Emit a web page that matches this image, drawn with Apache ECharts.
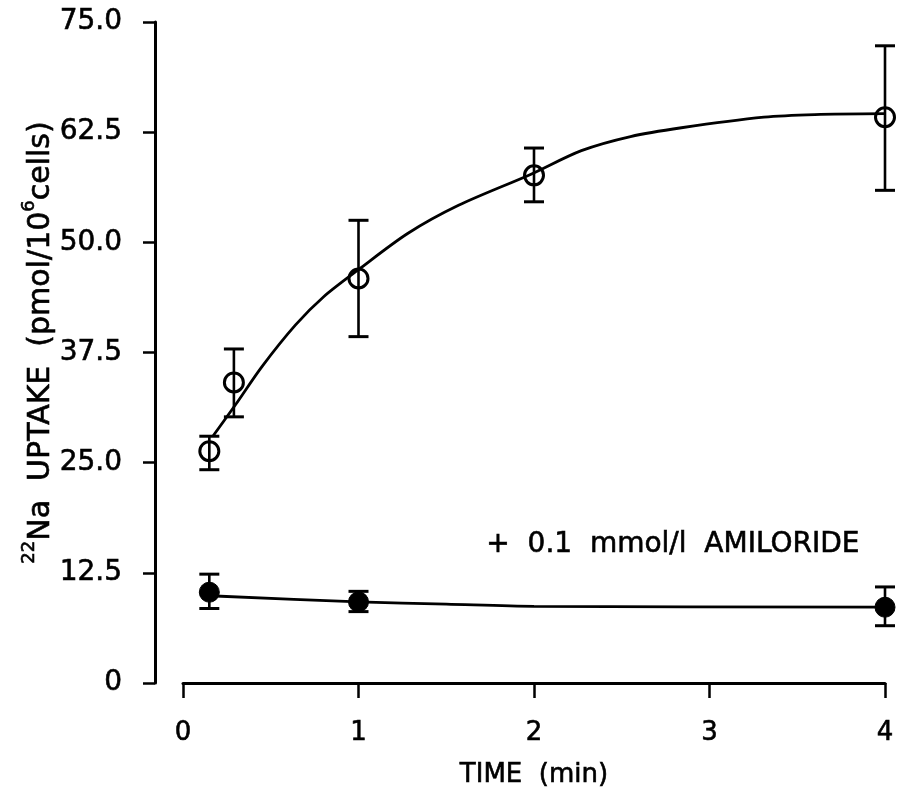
<!DOCTYPE html>
<html>
<head>
<meta charset="utf-8">
<script src="https://cdn.jsdelivr.net/npm/echarts@6/dist/echarts.min.js"></script>
<style>
html,body{margin:0;padding:0;background:#fff;}
#chart{width:897px;height:794px;}
</style>
</head>
<body>
<div id="chart"></div>
<script>
// ---- data ----
var xTicks = [0, 1, 2, 3, 4];
var yTickLabels = ['0', '12.5', '25.0', '37.5', '50.0', '62.5', '75.0'];

// control (open circles): time (min), mean, error low, error high
var ctrlTime = [0.15, 0.29, 1.0, 2.0, 4.0];
var ctrlMean = [26.3, 34.1, 45.9, 57.6, 64.2];
var ctrlLow  = [24.2, 30.2, 39.3, 54.6, 55.9];
var ctrlHigh = [28.0, 37.9, 52.5, 60.7, 72.3];

// fitted curve for control
var ctrlCurveTime  = [0.17, 0.30, 0.45, 0.64, 0.80, 1.00, 1.28, 1.57, 1.98, 2.27, 2.55, 2.84, 3.31, 3.60, 4.00];
var ctrlCurveValue = [28.0, 31.6, 35.9, 40.6, 43.8, 46.9, 51.0, 54.2, 57.7, 60.4, 62.0, 63.0, 64.2, 64.5, 64.6];

// + amiloride (filled circles)
var amiTime = [0.15, 1.0, 4.0];
var amiMean = [10.3, 9.2, 8.6];
var amiLow  = [8.45, 8.1, 6.5];
var amiHigh = [12.35, 10.4, 10.9];

// line for amiloride
var amiCurveTime  = [0.15, 1.0, 1.5, 2.0, 4.0];
var amiCurveValue = [9.9, 9.2, 8.95, 8.7, 8.6];

var annotationText = '+  0.1  mmol/l  AMILORIDE';

// ---- build ----
function pairs(xs, ys) { return xs.map(function (x, i) { return [x, ys[i]]; }); }
function errData(xs, lo, hi) { return xs.map(function (x, i) { return [x, lo[i], hi[i]]; }); }

function errorRender(params, api) {
  var x = api.value(0);
  var lo = api.coord([x, api.value(1)]);
  var hi = api.coord([x, api.value(2)]);
  var hw = 10;
  return {
    type: 'group',
    children: [
      { type: 'line', shape: { x1: lo[0], y1: lo[1], x2: hi[0], y2: hi[1] }, style: { stroke: '#000', lineWidth: 2.6 } },
      { type: 'line', shape: { x1: lo[0] - hw, y1: lo[1], x2: lo[0] + hw, y2: lo[1] }, style: { stroke: '#000', lineWidth: 3 } },
      { type: 'line', shape: { x1: hi[0] - hw, y1: hi[1], x2: hi[0] + hw, y2: hi[1] }, style: { stroke: '#000', lineWidth: 3 } }
    ]
  };
}

var FONT = 'DejaVu Sans';
var TB = { textBorderColor: '#000', textBorderWidth: 0.6 };
var chart = echarts.init(document.getElementById('chart'), null, { renderer: 'canvas' });

chart.setOption({
  backgroundColor: '#fff',
  animation: false,
  grid: { left: 183, right: 12, top: 22, bottom: 111, containLabel: false },
  xAxis: {
    type: 'value', min: 0, max: 4, interval: 1,
    name: 'TIME  (min)', nameLocation: 'middle', nameGap: 79, nameMoveOverlap: false,
    nameTextStyle: Object.assign({ fontFamily: FONT, fontSize: 26, color: '#000' }, TB),
    axisLine: { show: true, onZero: false, lineStyle: { color: '#000', width: 3 } },
    axisTick: { show: true, inside: false, length: 15, lineStyle: { color: '#000', width: 2.5 } },
    axisLabel: Object.assign({
      margin: 37, fontFamily: FONT, fontSize: 26, color: '#000',
      formatter: function (v) { return xTicks.indexOf(v) >= 0 ? String(v) : ''; }
    }, TB),
    splitLine: { show: false }
  },
  yAxis: {
    type: 'value', min: 0, max: 75, interval: 12.5, offset: 28,
    name: '{sup|22}{n|Na  UPTAKE  (pmol/10}{sup|6}{n|cells)}',
    nameLocation: 'middle', nameGap: 99, nameRotate: 90, nameMoveOverlap: false,
    nameTextStyle: {
      fontFamily: FONT, fontSize: 30, color: '#000', padding: [0, 0, 0, 20],
      rich: {
        n: Object.assign({ fontFamily: FONT, fontSize: 30, color: '#000', lineHeight: 36, verticalAlign: 'bottom' }, TB),
        sup: Object.assign({ fontFamily: FONT, fontSize: 18, color: '#000', lineHeight: 36, verticalAlign: 'top' }, TB)
      }
    },
    axisLine: { show: true, onZero: false, lineStyle: { color: '#000', width: 3 } },
    axisTick: { show: true, inside: false, length: 12, lineStyle: { color: '#000', width: 2.5 } },
    axisLabel: Object.assign({
      margin: 33, fontFamily: FONT, fontSize: 28, color: '#000',
      formatter: function (v) { var i = Math.round(v / 12.5); return yTickLabels[i] || ''; }
    }, TB),
    splitLine: { show: false }
  },
  graphic: [{
    type: 'text', left: 486, top: 530,
    style: { text: annotationText, fontFamily: FONT, fontSize: 28, fill: '#000', stroke: '#000', lineWidth: 0.6 }
  }],
  series: [
    {
      type: 'line', data: pairs(ctrlCurveTime, ctrlCurveValue), smooth: 0.3,
      showSymbol: false, symbol: 'none', lineStyle: { color: '#000', width: 2.8 }, z: 2
    },
    {
      type: 'line', data: pairs(amiCurveTime, amiCurveValue), smooth: 0.3,
      showSymbol: false, symbol: 'none', lineStyle: { color: '#000', width: 2.8 }, z: 2
    },
    { type: 'custom', renderItem: errorRender, data: errData(ctrlTime, ctrlLow, ctrlHigh), z: 3 },
    { type: 'custom', renderItem: errorRender, data: errData(amiTime, amiLow, amiHigh), z: 3 },
    {
      type: 'scatter', data: pairs(ctrlTime, ctrlMean), symbol: 'circle', symbolSize: 19,
      itemStyle: { color: 'rgba(0,0,0,0)', borderColor: '#000', borderWidth: 3, opacity: 1 }, z: 4
    },
    {
      type: 'scatter', data: pairs(amiTime, amiMean), symbol: 'circle', symbolSize: 20,
      itemStyle: { color: '#000', borderColor: '#000', borderWidth: 1, opacity: 1 }, z: 4
    }
  ]
});
</script>
</body>
</html>
